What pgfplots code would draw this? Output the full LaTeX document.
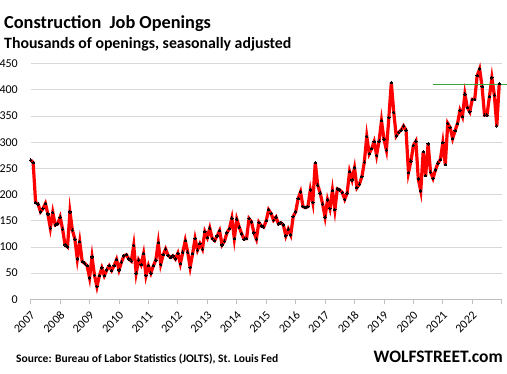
\documentclass[border=0pt]{standalone}
\usepackage{fontspec}
\setmainfont{Carlito}
\usepackage{pgfplots}
\pgfplotsset{compat=1.18}
\definecolor{gridgray}{RGB}{217,217,217}
\definecolor{axisgray}{RGB}{191,191,191}
\definecolor{linegreen}{RGB}{60,165,60}
\begin{document}
\begin{tikzpicture}
\useasboundingbox (-30.7pt,-74.7pt) rectangle (476.3pt,299.3pt);
\begin{axis}[
  at={(0pt,0pt)}, anchor=south west,
  scale only axis, width=471pt, height=235.6pt,
  xmin=0, xmax=192, ymin=0, ymax=450,
  axis lines*=left,
  y axis line style={draw=none},
  x axis line style={axisgray, line width=0.8pt},
  ymajorgrids, grid style={gridgray, line width=0.8pt},
  ytick={0,50,...,450},
  ytick style={draw=none},
  xtick={0,12,...,192},
  xticklabels={2007,2008,2009,2010,2011,2012,2013,2014,2015,2016,2017,2018,2019,2020,2021,2022,},
  xtick align=outside,
  major tick length=5pt,
  xtick style={axisgray, line width=0.8pt},
  /pgf/number format/assume math mode=true,
  tick label style={font=\fontsize{12}{13}\selectfont, text=black},
  yticklabel style={anchor=east, inner sep=0pt, xshift=-12.7pt},
  xticklabel style={xshift=2.5pt, yshift=-9pt, rotate=45, anchor=east, inner sep=0pt},
  clip=false,
]
\addplot[red, line width=3.2pt, mark=*, mark size=1.2pt, mark options={fill=black, draw=black, line width=0pt}] coordinates {
(0,266) (1,261) (2,185) (3,182) (4,167) (5,173) (6,183) (7,163) (8,136) (9,166)
(10,142) (11,144) (12,157) (13,134) (14,104) (15,100) (16,167) (17,132) (18,115) (19,77)
(20,110) (21,72) (22,69) (23,64) (24,41) (25,81) (26,46) (27,24) (28,45) (29,60)
(30,45) (31,56) (32,64) (33,55) (34,64) (35,76) (36,56) (37,71) (38,83) (39,85)
(40,77) (41,73) (42,103) (43,50) (44,75) (45,66) (46,87) (47,45) (48,64) (49,50)
(50,64) (51,75) (52,108) (53,67) (54,85) (55,96) (56,84) (57,80) (58,83) (59,77)
(60,88) (61,68) (62,90) (63,112) (64,90) (65,61) (66,87) (67,116) (68,94) (69,106)
(70,96) (71,129) (72,118) (73,136) (74,116) (75,112) (76,121) (77,131) (78,104) (79,111)
(80,127) (81,135) (82,155) (83,116) (84,153) (85,138) (86,125) (87,115) (88,116) (89,154)
(90,148) (91,127) (92,115) (93,147) (94,140) (95,138) (96,150) (97,171) (98,164) (99,151)
(100,157) (101,144) (102,146) (103,142) (104,121) (105,134) (106,123) (107,158) (108,167) (109,192)
(110,205) (111,177) (112,175) (113,177) (114,209) (115,185) (116,261) (117,218) (118,203) (119,182)
(120,157) (121,190) (122,173) (123,208) (124,171) (125,211) (126,209) (127,204) (128,191) (129,203)
(130,244) (131,228) (132,251) (133,213) (134,220) (135,234) (136,262) (137,311) (138,278) (139,288)
(140,301) (141,275) (142,302) (143,341) (144,306) (145,285) (146,347) (147,414) (148,357) (149,312)
(150,319) (151,323) (152,331) (153,323) (154,242) (155,264) (156,294) (157,302) (158,230) (159,207)
(160,282) (161,236) (162,297) (163,243) (164,231) (165,247) (166,260) (167,267) (168,299) (169,257)
(170,336) (171,328) (172,307) (173,322) (174,336) (175,361) (176,349) (177,392) (178,366) (179,358)
(180,382) (181,382) (182,427) (183,440) (184,406) (185,352) (186,352) (187,387) (188,423) (189,390)
(190,331) (191,412)
};
\addplot[linegreen, line width=1.2pt] coordinates {(163.8,411) (194,411)};
\end{axis}
\node[anchor=base west, inner sep=0pt, font=\fontsize{18.3}{20}\selectfont\bfseries] at (-26.7pt,270.3pt) {Construction\ \ Job Openings};
\node[anchor=base west, inner sep=0pt, font=\fontsize{15.8}{17}\selectfont\bfseries] at (-26.7pt,251pt) {Thousands of openings, seasonally adjusted};
\node[anchor=base west, inner sep=0pt, font=\fontsize{11.5}{13}\selectfont\bfseries] at (-14.7pt,-63pt) {Source: Bureau of Labor Statistics (JOLTS), St. Louis Fed};
\node[anchor=base east, inner sep=0pt, font=\fontsize{17.5}{19}\selectfont\bfseries] at (472.3pt,-63.4pt) {WOLFSTREET.com};
\end{tikzpicture}
\end{document}
